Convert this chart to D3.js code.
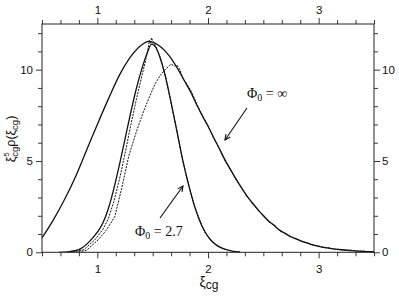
<!DOCTYPE html>
<html><head><meta charset="utf-8">
<script src="https://cdn.jsdelivr.net/npm/d3@7"></script>
<style>body{margin:0;background:#fff}svg{display:block}</style>
</head><body>
<svg id="c" width="399" height="297"></svg>
<script>
// ---- data ----
const xTicks = [1, 2, 3];
const yTicks = [0, 5, 10];
// theory, Phi0 = infinity (wide solid curve)
const wideX = [0.50,0.60,0.70,0.80,0.90,1.00,1.10,1.20,1.30,1.40,1.46,1.55,1.65,1.75,1.80,1.85,1.90,1.95,2.00,2.05,2.10,2.15,2.20,2.25,2.30,2.35,2.40,2.45,2.50,2.55,2.60,2.65,2.70,2.75,2.80,2.85,2.90,2.95,3.00,3.10,3.20,3.30,3.40,3.50];
const wideY = [0.79,1.75,2.85,4.10,5.55,7.00,8.40,9.70,10.70,11.35,11.55,11.35,10.75,9.80,9.25,8.70,8.05,7.45,6.90,6.30,5.70,5.10,4.55,4.05,3.55,3.10,2.70,2.35,2.00,1.70,1.45,1.20,1.02,0.85,0.72,0.60,0.50,0.40,0.32,0.22,0.14,0.09,0.05,0.03];
// theory, Phi0 = 2.7 (narrow solid curve)
const narrowX = [0.65,0.75,0.85,0.93,1.00,1.05,1.10,1.15,1.20,1.25,1.30,1.35,1.40,1.45,1.49,1.53,1.57,1.62,1.67,1.72,1.77,1.82,1.87,1.92,1.97,2.02,2.08,2.15,2.22,2.29];
const narrowY = [0.00,0.04,0.20,0.60,1.10,1.60,2.40,3.50,4.80,6.20,7.60,8.90,10.00,10.90,11.40,11.20,10.60,9.50,8.10,6.60,5.10,3.80,2.70,1.80,1.15,0.70,0.38,0.17,0.06,0.02];
// simulation, Phi0 = 2.7 (dotted)
const sim27X = [0.78,0.88,0.977,1.05,1.10,1.15,1.20,1.25,1.30,1.35,1.40,1.44,1.46,1.47,1.48,1.49,1.50,1.51,1.53,1.57,1.62,1.67,1.72,1.77,1.82,1.87,1.92,1.97,2.02,2.08,2.15];
const sim27Y = [0.02,0.15,0.68,1.25,1.85,2.80,4.00,5.40,6.90,8.30,9.60,10.60,11.20,11.60,11.45,11.75,11.55,11.50,11.25,10.65,9.55,8.05,6.65,5.05,3.85,2.65,1.85,1.10,0.72,0.36,0.18];
// simulation, Phi0 = infinity (dotted)
const simInfX = [0.80,0.90,1.007,1.08,1.158,1.22,1.285,1.358,1.42,1.47,1.52,1.57,1.62,1.667,1.70,1.72,1.75,1.773,1.80,1.85,1.90,1.95,2.00,2.05,2.10,2.15,2.20,2.25,2.30,2.35,2.40,2.45,2.50,2.55,2.60,2.65,2.70,2.75,2.80,2.85,2.90,2.95,3.00,3.05,3.10,3.15,3.20,3.25,3.30,3.35,3.40,3.45,3.50];
const simInfY = [0.00,0.10,0.68,1.20,1.96,3.50,5.30,6.70,7.75,8.50,9.20,9.70,10.05,10.30,10.20,10.25,9.95,9.50,9.30,8.80,8.10,7.50,6.95,6.25,5.75,5.05,4.60,4.00,3.60,3.05,2.75,2.30,2.05,1.65,1.50,1.15,1.05,0.82,0.75,0.58,0.52,0.38,0.35,0.25,0.24,0.15,0.16,0.10,0.11,0.06,0.07,0.03,0.04];

// ---- layout ----
const L = 42, R = 374, T = 24, B = 252.3;
const svg = d3.select("#c");
const x = d3.scaleLinear().domain([0.5, 3.5]).range([L, R]);
const y = d3.scaleLinear().domain([0, 12.5]).range([B, T]);
const font = "'Liberation Sans', Arial, sans-serif";
const serif = "'Liberation Serif', 'Times New Roman', serif";

const minorX = d3.range(0, 19).map(i => 0.5 + i / 6).filter(v => !xTicks.includes(Math.round(v * 1000) / 1000));
const minorY = d3.range(0, 13).filter(v => !yTicks.includes(v));

function axis(gen, tr, vals, major, size) {
  const g = svg.append("g").attr("transform", tr)
    .call(gen.tickValues(vals).tickSize(size).tickFormat(d => major ? d : ""));
  g.selectAll("path").remove();
  g.selectAll("line").attr("stroke", "#222").attr("stroke-width", 0.9);
  g.selectAll("text").attr("font-family", font).attr("font-size", 11.5).attr("fill", "#111");
  return g;
}
// minor ticks
axis(d3.axisBottom(x), `translate(0,${B})`, minorX, false, 4);
axis(d3.axisTop(x), `translate(0,${T})`, minorX, false, 4);
axis(d3.axisLeft(y), `translate(${L},0)`, minorY, false, 4);
axis(d3.axisRight(y), `translate(${R},0)`, minorY, false, 4);
// major ticks
axis(d3.axisBottom(x), `translate(0,${B})`, xTicks, true, 6).selectAll("text").attr("dy", "1.05em");
axis(d3.axisTop(x), `translate(0,${T})`, xTicks, true, 6).selectAll("text").attr("dy", "-0.1em");
axis(d3.axisLeft(y), `translate(${L},0)`, yTicks, true, 6).selectAll("text").attr("x", -9);
axis(d3.axisRight(y), `translate(${R},0)`, yTicks, true, 6).selectAll("text").attr("x", 8);

// frame
svg.append("rect").attr("x", L).attr("y", T).attr("width", R - L).attr("height", B - T)
  .attr("fill", "none").attr("stroke", "#222").attr("stroke-width", 1);

svg.append("clipPath").attr("id", "pc").append("rect")
  .attr("x", L).attr("y", T).attr("width", R - L).attr("height", B - T);
const plot = svg.append("g").attr("clip-path", "url(#pc)");

function draw(xs, ys, curve, dash, w) {
  const pts = xs.map((v, i) => [v, ys[i]]);
  plot.append("path").datum(pts)
    .attr("d", d3.line().x(d => x(d[0])).y(d => y(d[1])).curve(curve))
    .attr("fill", "none").attr("stroke", "#111").attr("stroke-width", w)
    .attr("stroke-dasharray", dash);
}
draw(sim27X, sim27Y, d3.curveLinear, "2,1.2", 1);
draw(simInfX, simInfY, d3.curveLinear, "2,1.2", 1);
draw(wideX, wideY, d3.curveMonotoneX, null, 1.3);
draw(narrowX, narrowY, d3.curveMonotoneX, null, 1.3);

// axis titles
const yt = svg.append("text").attr("font-family", font).attr("font-size", 12.5).attr("fill", "#111")
  .attr("transform", "translate(15,139) rotate(-90)").attr("text-anchor", "middle");
yt.append("tspan").text("ξ");
yt.append("tspan").attr("font-size", 8).attr("dy", -6).text("5");
yt.append("tspan").attr("font-size", 9.5).attr("dx", -4.5).attr("dy", 8.5).text("cg");
yt.append("tspan").attr("dy", -2.5).text("ρ(ξ");
yt.append("tspan").attr("font-size", 9.5).attr("dy", 2.5).text("cg");
yt.append("tspan").attr("dy", -2.5).text(")");

const xt = svg.append("text").attr("font-family", font).attr("font-size", 14).attr("fill", "#111")
  .attr("x", 209).attr("y", 287).attr("text-anchor", "middle");
xt.append("tspan").text("ξ");
xt.append("tspan").attr("font-size", 12).attr("dy", 2).text("cg");

// annotations
function label(px, py, val) {
  const t = svg.append("text").attr("font-family", serif).attr("font-size", 14).attr("fill", "#111")
    .attr("x", px).attr("y", py);
  t.append("tspan").text("Φ");
  t.append("tspan").attr("font-size", 10).attr("dy", 3).text("0");
  t.append("tspan").attr("dy", -3).text(" = " + val);
}
label(247, 98, "∞");
label(135, 236, "2.7");

function arrow(x1, y1, x2, y2) {
  svg.append("line").attr("x1", x1).attr("y1", y1).attr("x2", x2).attr("y2", y2)
    .attr("stroke", "#111").attr("stroke-width", 1.1);
  const a = Math.atan2(y2 - y1, x2 - x1), h = 6, s = 0.45;
  const p = [[x2 - h * Math.cos(a - s), y2 - h * Math.sin(a - s)], [x2, y2], [x2 - h * Math.cos(a + s), y2 - h * Math.sin(a + s)]];
  svg.append("path").attr("d", d3.line()(p)).attr("fill", "none").attr("stroke", "#111").attr("stroke-width", 1.1);
}
arrow(247, 108, 225, 140);
arrow(160, 218, 183, 186);
</script>
</body></html>
